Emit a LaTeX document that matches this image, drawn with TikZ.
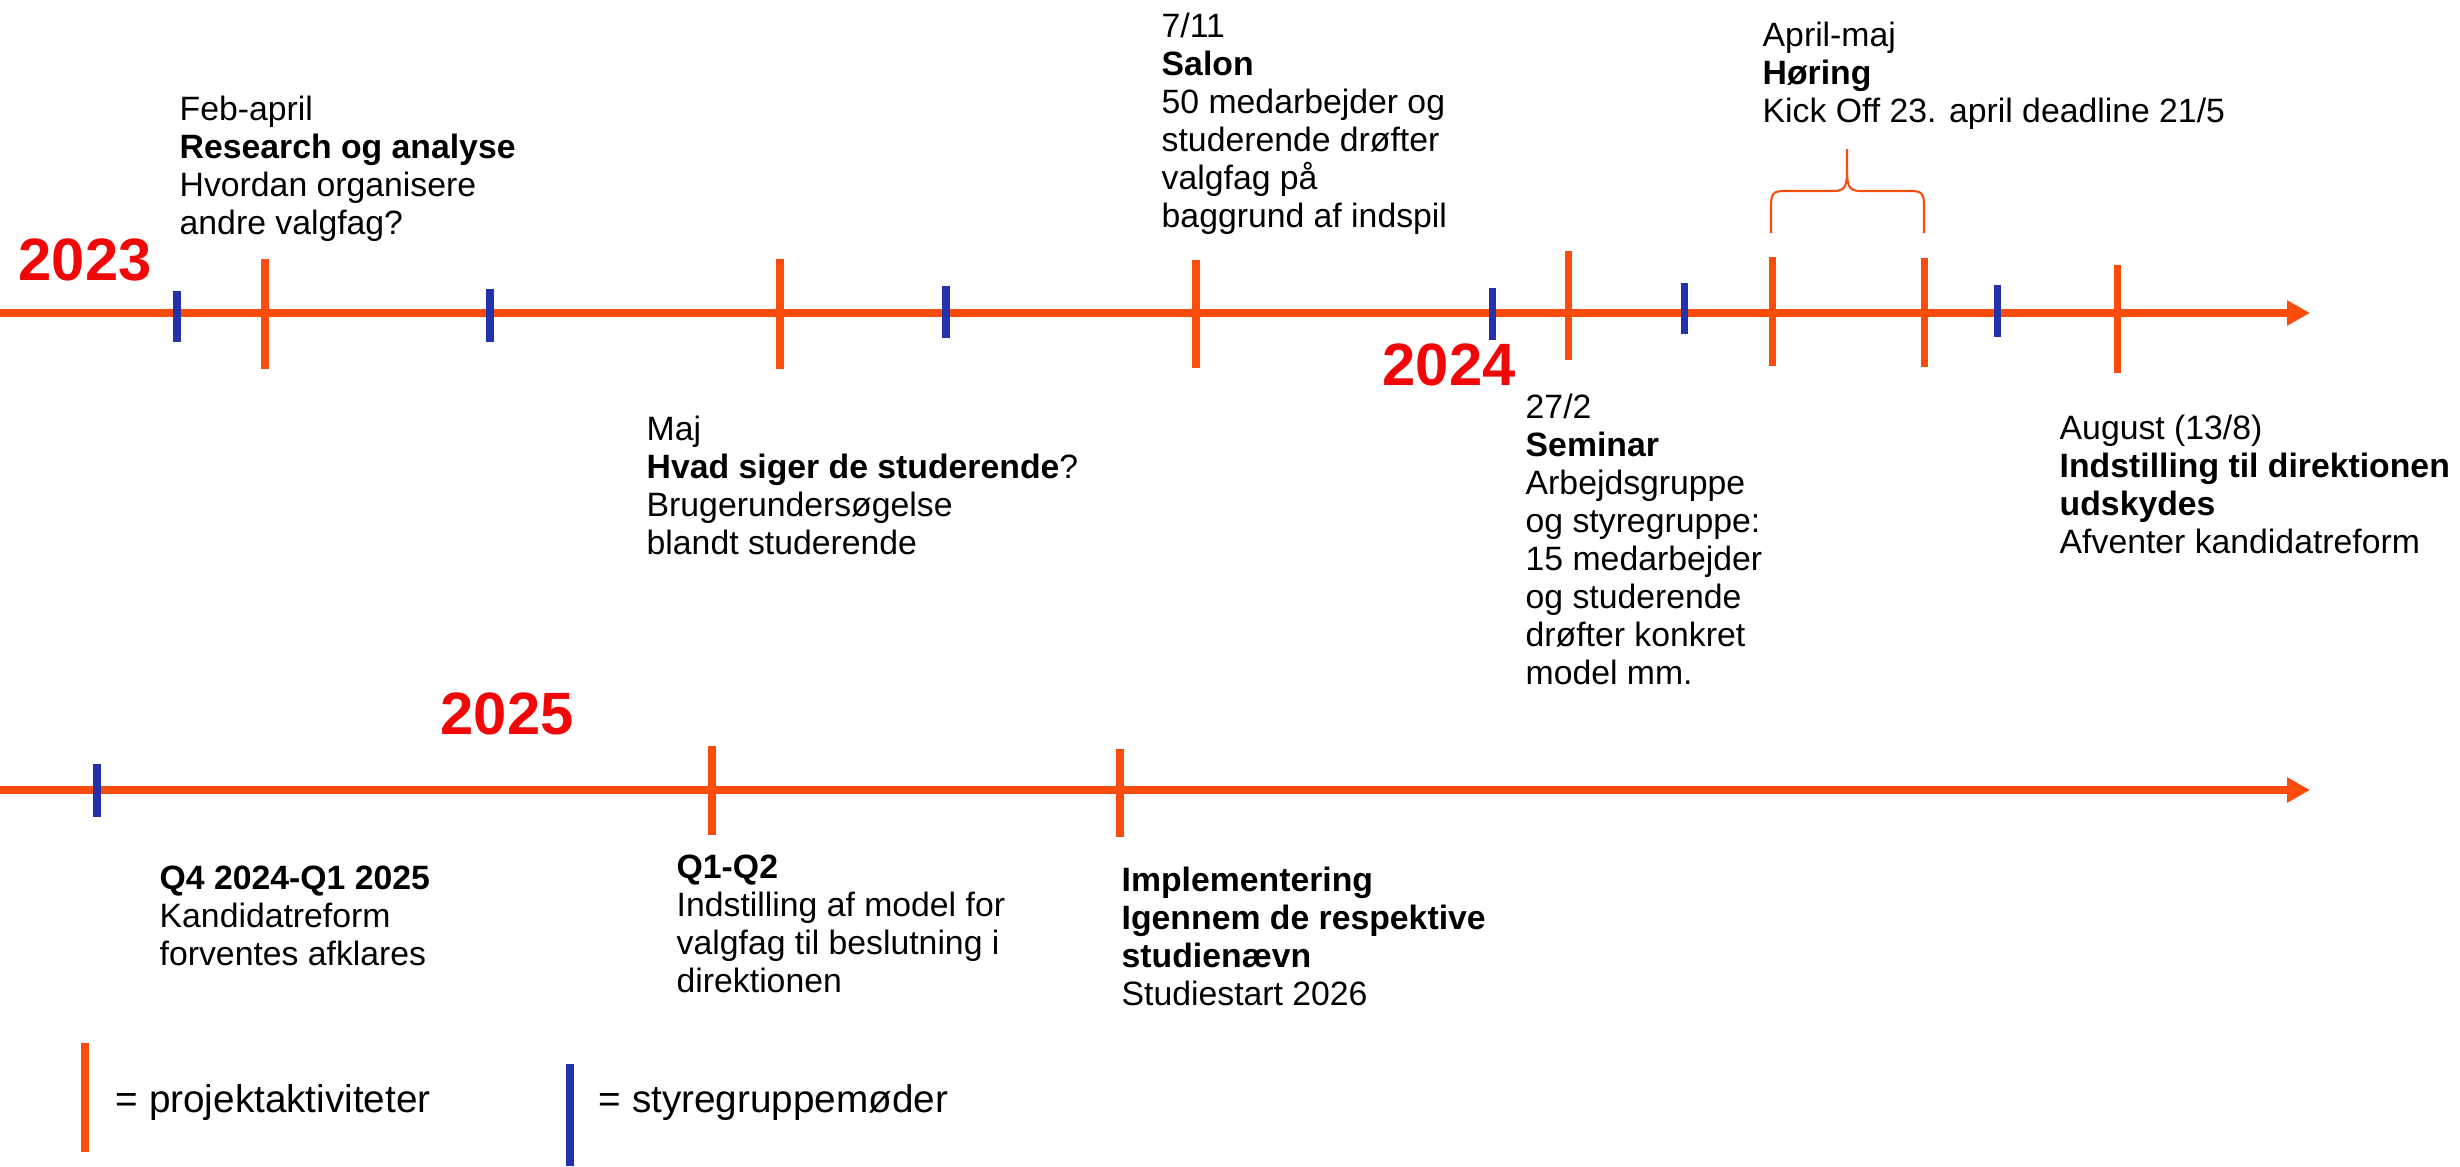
\documentclass[tikz,border=0pt]{standalone}
\usepackage{fontspec}
\setmainfont{Liberation Sans}
\usetikzlibrary{arrows.meta}

\definecolor{tlorange}{RGB}{250,76,12}
\definecolor{tlblue}{RGB}{35,50,170}
\definecolor{tlred}{RGB}{240,8,8}

\begin{document}
\begin{tikzpicture}[x=0.01cm, y=-0.01cm,
  axis/.style={tlorange, line width=2.1pt, -{Triangle[length=0.23cm, width=0.24cm]}},
  proj/.style={tlorange, line width=2pt},
  meet/.style={tlblue, line width=2pt},
  year/.style={tlred, font=\fontsize{17}{19}\selectfont\bfseries, inner sep=0pt, anchor=base west},
  txt/.style={font=\fontsize{9.6}{10.8}\selectfont, align=left, inner sep=0pt, anchor=north west},
  leg/.style={font=\fontsize{11}{13}\selectfont, inner sep=0pt, anchor=base west}]

\useasboundingbox (0,0) rectangle (2460,1166);

\path (0,313) coordinate(S1) (2310,313) coordinate(E1);
\path (0,790) coordinate(S2) (2310,790) coordinate(E2);

\draw [axis] (S1) -- (E1);
\draw [axis] (S2) -- (E2);

\draw [meet] (177,291) -- (177,342);
\draw [proj] (265,259) -- (265,369);
\draw [meet] (490,289) -- (490,342);
\draw [proj] (780,259) -- (780,369);
\draw [meet] (946,286) -- (946,338);
\draw [proj] (1196,260) -- (1196,368);
\draw [meet] (1492,288) -- (1492,340);
\draw [proj] (1568,251) -- (1568,360);
\draw [meet] (1684,283) -- (1684,334);
\draw [proj] (1772,257) -- (1772,366);
\draw [proj] (1924,258) -- (1924,367);
\draw [meet] (1997,285) -- (1997,337);
\draw [proj] (2117,265) -- (2117,373);

\draw [meet] (97,764) -- (97,817);
\draw [proj] (712,746) -- (712,835);
\draw [proj] (1120,749) -- (1120,837);

\draw [tlorange, line width=0.6pt] (1771,233) -- (1771,207) .. controls (1771,193) and (1773,191) .. (1785,191) -- (1832,191) .. controls (1843,191) and (1847,189) .. (1847,172) -- (1847,149);
\draw [tlorange, line width=0.6pt] (1924,233) -- (1924,207) .. controls (1924,193) and (1922,191) .. (1910,191) -- (1862,191) .. controls (1851,191) and (1847,189) .. (1847,172);

\node [year] (Y23) at (18,280) {2023};
\node [year] (Y24) at (1382,385) {2024};
\node [year] (Y25) at (440,734) {2025};

\node [txt] (FEB) at (179,95) {Feb-april\\\textbf{Research og analyse}\\Hvordan organisere\\andre valgfag?};
\node [txt] (SAL) at (1161,12) {7/11\\\textbf{Salon}\\50 medarbejder og\\studerende drøfter\\valgfag på\\baggrund af indspil};
\node [txt] (HOR) at (1762,21) {April-maj\\\textbf{Høring}\\Kick Off 23. april deadline 21/5};
\node [txt] (MAJ) at (646,415) {Maj\\\textbf{Hvad siger de studerende}?\\Brugerundersøgelse\\blandt studerende};
\node [txt] (SEM) at (1525,393) {27/2\\\textbf{Seminar}\\Arbejdsgruppe\\og styregruppe:\\15 medarbejder\\og studerende\\drøfter konkret\\model mm.};
\node [txt] (AUG) at (2059,414) {August (13/8)\\\textbf{Indstilling til direktionen}\\\textbf{udskydes}\\Afventer kandidatreform};

\node [txt] (Q4) at (159,865) {\textbf{Q4 2024-Q1 2025}\\Kandidatreform\\forventes afklares};
\node [txt] (Q1) at (676,854) {\textbf{Q1-Q2}\\Indstilling af model for\\valgfag til beslutning i\\direktionen};
\node [txt] (IMP) at (1121,866) {\textbf{Implementering}\\\textbf{Igennem de respektive}\\\textbf{studienævn}\\Studiestart 2026};

\draw [proj] (85,1043) -- (85,1152);
\node [leg] (P) at (115,1112) {= projektaktiviteter};
\draw [meet] (570,1064) -- (570,1166);
\node [leg] (M) at (598,1112) {= styregruppemøder};

\end{tikzpicture}
\end{document}
